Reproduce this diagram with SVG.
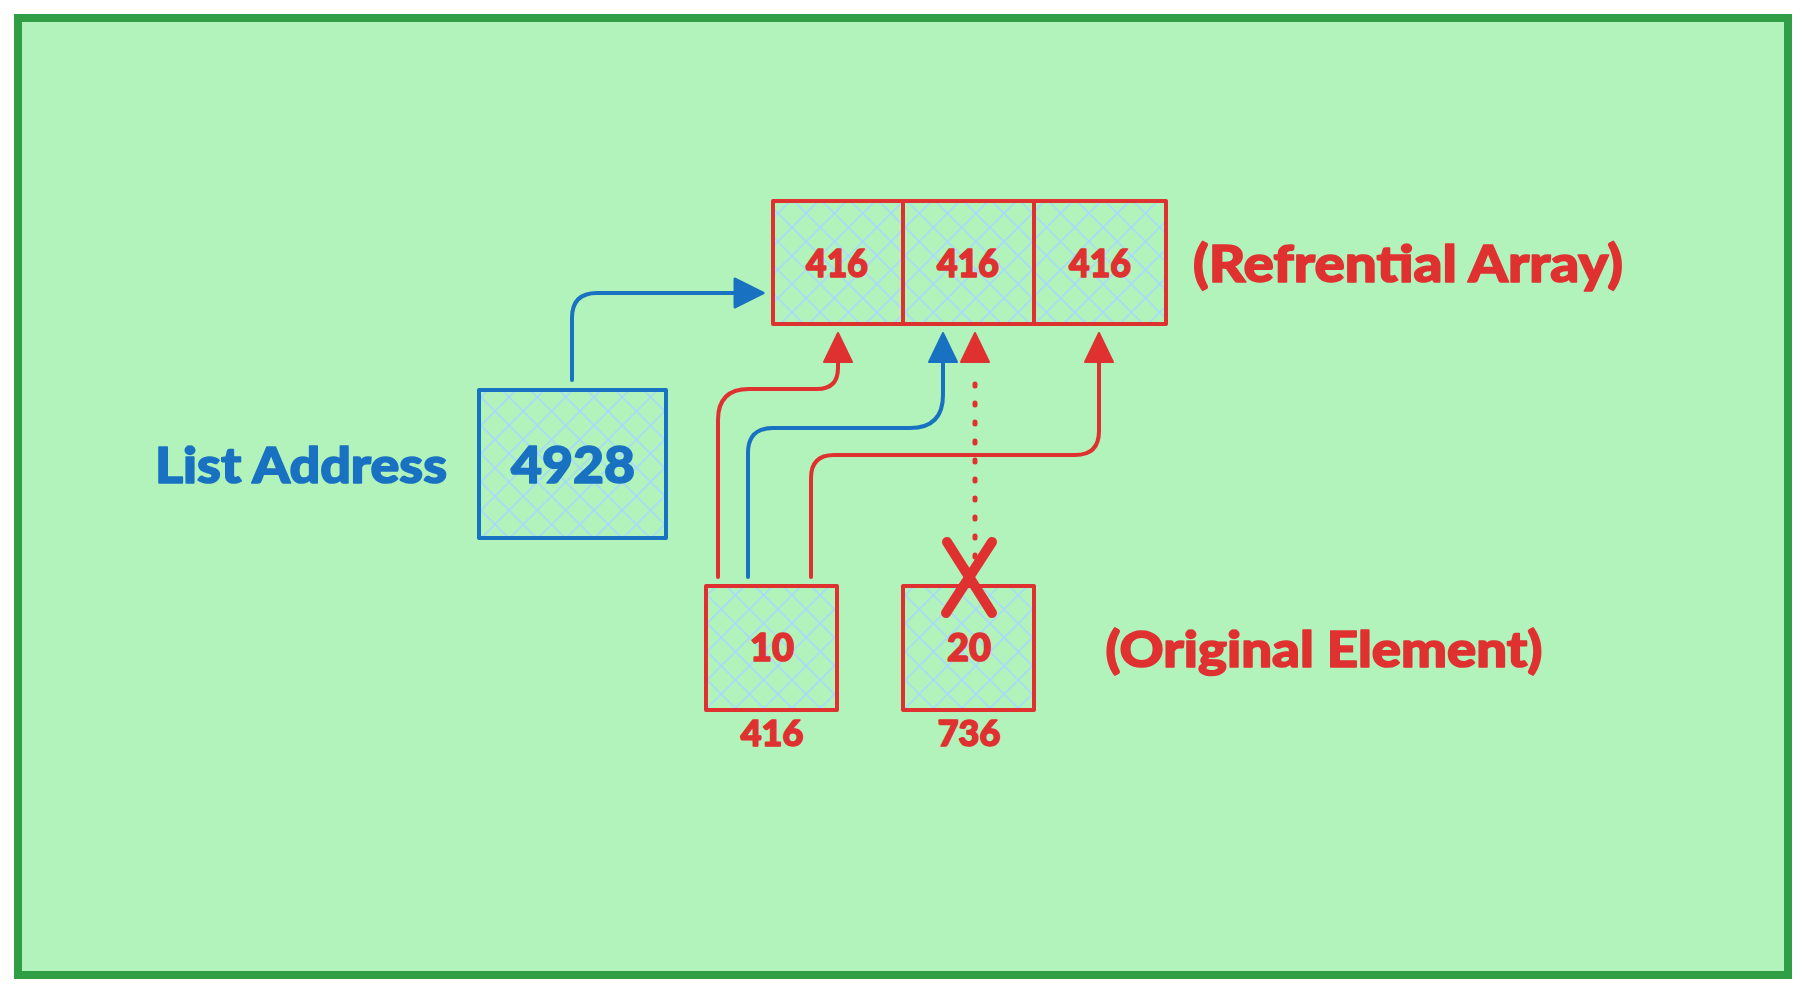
<svg xmlns="http://www.w3.org/2000/svg" width="1806" height="994" viewBox="0 0 1806 994">
<style>
.t{font-family:Lato,"Liberation Sans",sans-serif;font-weight:900;text-anchor:middle;stroke-width:1.6;stroke-linejoin:round}
.red{fill:#e03131;stroke:#e03131}
.blue{fill:#1971c2;stroke:#1971c2}
.box{fill:url(#hatch);stroke-width:4;stroke-linejoin:round}
.rb{stroke:#e03131}
.bb{stroke:#1971c2}
.conn{fill:none;stroke-width:4;stroke-linecap:round;stroke-linejoin:round}
</style>
<defs>
<pattern id="hatch" width="20" height="20" patternUnits="userSpaceOnUse" patternTransform="rotate(45)">
<line x1="0" y1="0" x2="0" y2="20" stroke="#a5d8ff" stroke-width="3"/>
<line x1="0" y1="0" x2="20" y2="0" stroke="#a5d8ff" stroke-width="3"/>
</pattern>
</defs>
<rect x="18" y="18" width="1770" height="957" fill="#b2f2bb" stroke="#2f9e44" stroke-width="8"/>

<g id="connectors">
<path class="conn" d="M572,380 V318 Q572,293 597,293 H735" stroke="#1971c2"/>
<path d="M735,279 L763,293 L735,307 Z" fill="#1971c2" stroke="#1971c2" stroke-width="3" stroke-linejoin="round"/>

<path class="conn" d="M718,577 V420 Q718,389 749,389 H817 Q838,389 838,368 V360" stroke="#e03131"/>
<path d="M824,362 L838,333 L852,362 Z" fill="#e03131" stroke="#e03131" stroke-width="2" stroke-linejoin="round"/>

<path class="conn" d="M748,577 V453 Q748,428 773,428 H910 Q943,428 943,395 V360" stroke="#1971c2"/>
<path d="M929,362 L943,333 L957,362 Z" fill="#1971c2" stroke="#1971c2" stroke-width="2" stroke-linejoin="round"/>

<path d="M975,557 V368" fill="none" stroke="#e03131" stroke-width="5" stroke-linecap="round" stroke-dasharray="2 17"/>
<path d="M961,362 L975,333 L989,362 Z" fill="#e03131" stroke="#e03131" stroke-width="2" stroke-linejoin="round"/>

<path class="conn" d="M811,577 V478 Q811,455 834,455 H1075 Q1099,455 1099,431 V360" stroke="#e03131"/>
<path d="M1085,362 L1099,333 L1113,362 Z" fill="#e03131" stroke="#e03131" stroke-width="2" stroke-linejoin="round"/>
</g>

<g id="list-address-label"><text class="t blue" x="301" y="483" font-size="50" textLength="292" lengthAdjust="spacingAndGlyphs">List Address</text></g>

<g id="list-address">
<rect class="box bb" x="479" y="390" width="187" height="148"/>
<text class="t blue" x="573" y="483" font-size="52" textLength="124" lengthAdjust="spacingAndGlyphs">4928</text>
</g>

<g id="array">
<rect class="box rb" x="773" y="201" width="130" height="123"/>
<rect class="box rb" x="903" y="201" width="131" height="123"/>
<rect class="box rb" x="1034" y="201" width="132" height="123"/>
<text class="t red" x="837" y="277" font-size="38" textLength="62" lengthAdjust="spacingAndGlyphs">416</text>
<text class="t red" x="968" y="277" font-size="38" textLength="62" lengthAdjust="spacingAndGlyphs">416</text>
<text class="t red" x="1100" y="277" font-size="38" textLength="62" lengthAdjust="spacingAndGlyphs">416</text>
</g>

<g id="array-label"><text class="t red" x="1408" y="282" font-size="52" textLength="430" lengthAdjust="spacingAndGlyphs">(Refrential Array)</text></g>

<g id="elem-10">
<rect class="box rb" x="706" y="586" width="131" height="124"/>
<text class="t red" x="772" y="661" font-size="38">10</text>
<text class="t red" x="772" y="746" font-size="36">416</text>
</g>

<g id="elem-20">
<rect class="box rb" x="903" y="586" width="131" height="124"/>
<text class="t red" x="969" y="661" font-size="38">20</text>
<text class="t red" x="969" y="746" font-size="36">736</text>
<path d="M947,542 L992,613 M992,542 L946,613" stroke="#e03131" stroke-width="10" stroke-linecap="round" fill="none"/>
</g>

<g id="element-label"><text class="t red" x="1324" y="667" font-size="50" textLength="437" lengthAdjust="spacingAndGlyphs">(Original Element)</text></g>
</svg>
